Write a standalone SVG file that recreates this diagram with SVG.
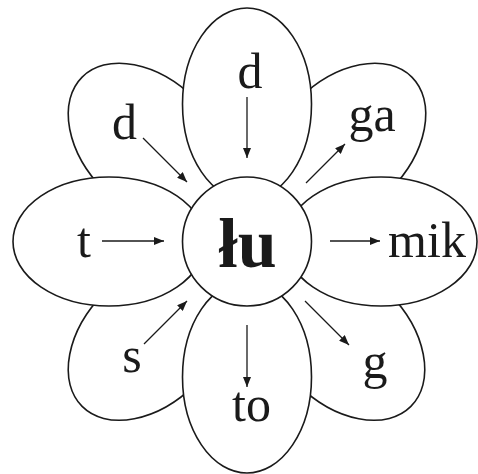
<svg xmlns="http://www.w3.org/2000/svg" width="478" height="474" viewBox="0 0 478 474">
<defs>
<style>
.p{fill:#fff;stroke:#1a1a1a;stroke-width:1.6}
.t{font-family:"Liberation Serif","Times New Roman",serif;font-size:50px;fill:#1a1a1a;text-anchor:middle}
.b{font-weight:bold;font-size:70px}
.a{stroke:#1a1a1a;stroke-width:1.3;fill:none;marker-end:url(#ah)}
</style>
<marker id="ah" viewBox="0 0 10 8" refX="10" refY="4" markerWidth="10" markerHeight="8" markerUnits="userSpaceOnUse" orient="auto">
<path d="M0,0 L10,4 L0,8 Z" fill="#1a1a1a"/>
</marker>
</defs>
<rect width="478" height="474" fill="#fff"/>
<g id="petal-ul"><ellipse class="p" cx="150" cy="145" rx="96" ry="64.5" transform="rotate(45 150 145)"/><text class="t" x="124.5" y="139">d</text></g>
<g id="petal-ur"><ellipse class="p" cx="344" cy="145" rx="96" ry="64.5" transform="rotate(-45 344 145)"/><text class="t" x="372" y="131">ga</text></g>
<g id="petal-ll"><ellipse class="p" cx="150" cy="338.5" rx="96" ry="64.5" transform="rotate(-45 150 338.5)"/><text class="t" x="132" y="372">s</text></g>
<g id="petal-lr"><ellipse class="p" cx="343" cy="338.5" rx="96" ry="64.5" transform="rotate(45 343 338.5)"/><text class="t" x="375" y="378">g</text></g>
<g id="petal-t"><ellipse class="p" cx="247" cy="104" rx="64.5" ry="96"/><text class="t" x="250" y="88">d</text></g>
<g id="petal-b"><ellipse class="p" cx="247" cy="377" rx="64.5" ry="96"/><text class="t" x="251.5" y="421">to</text></g>
<g id="petal-l"><ellipse class="p" cx="109" cy="241.5" rx="96" ry="64.5"/><text class="t" x="84" y="257">t</text></g>
<g id="petal-r"><ellipse class="p" cx="381" cy="241.5" rx="96" ry="64.5"/><text class="t" x="427" y="257">mik</text></g>
<g id="center"><circle class="p" cx="247" cy="241.5" r="64.5"/><text class="t b" x="247.5" y="267">łu</text></g>
<g id="connectors">
<line class="a" x1="247" y1="97" x2="247" y2="158"/>
<line class="a" x1="143" y1="138" x2="187" y2="182"/>
<line class="a" x1="306" y1="183" x2="345" y2="144"/>
<line class="a" x1="102" y1="241" x2="164" y2="241"/>
<line class="a" x1="330" y1="241" x2="380" y2="241"/>
<line class="a" x1="144" y1="344" x2="187" y2="301"/>
<line class="a" x1="305" y1="301" x2="349" y2="345"/>
<line class="a" x1="247" y1="325" x2="247" y2="387"/>
</g>
</svg>
